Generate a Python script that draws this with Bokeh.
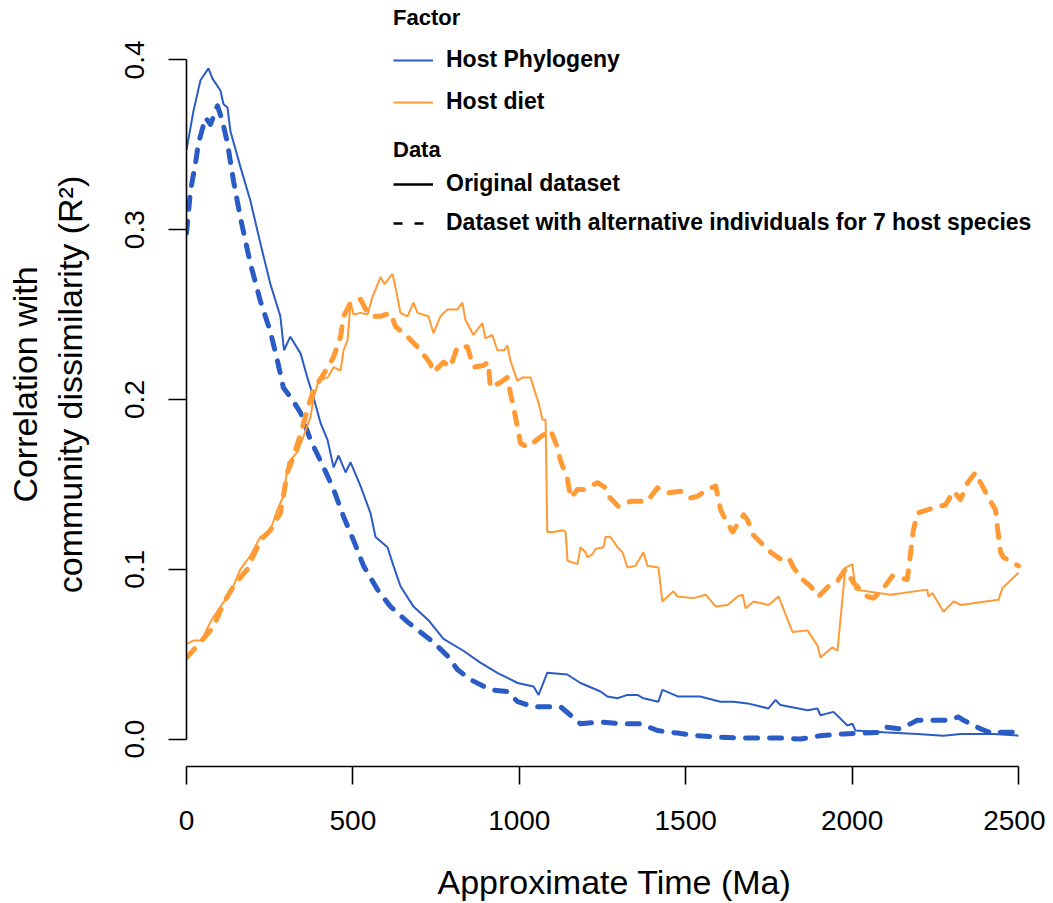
from bokeh.plotting import figure
from bokeh.models import (Range1d, FixedTicker, Legend, LegendItem, LinearAxis,
                          CustomJSTickFormatter)
from bokeh.embed import file_html
from bokeh.resources import INLINE

# ---------------- data ----------------
phylo_orig_t = [0, 21, 42, 66, 78, 102, 111, 123, 132, 162, 192, 222, 252, 282,
                293, 312, 343, 363, 382, 403, 424, 442, 457, 478, 493, 523, 553,
                568, 604, 622, 643, 682, 727, 772, 832, 883, 934, 995, 1043, 1058,
                1084, 1144, 1184, 1244, 1265, 1295, 1325, 1355, 1373, 1418, 1430,
                1478, 1544, 1584, 1605, 1644, 1686, 1749, 1770, 1785, 1866, 1896,
                1905, 1944, 1986, 2001, 2010, 2094, 2196, 2275, 2326, 2426, 2500]
phylo_orig_r2 = [0.347, 0.370, 0.388, 0.395, 0.389, 0.382, 0.374, 0.372, 0.358,
                 0.337, 0.317, 0.292, 0.268, 0.249, 0.229, 0.237, 0.227, 0.213,
                 0.201, 0.186, 0.176, 0.160, 0.167, 0.157, 0.163, 0.149, 0.133,
                 0.119, 0.113, 0.102, 0.090, 0.078, 0.070, 0.059, 0.052, 0.045,
                 0.039, 0.033, 0.031, 0.026, 0.039, 0.038, 0.033, 0.028, 0.025,
                 0.024, 0.026, 0.026, 0.024, 0.022, 0.029, 0.025, 0.025, 0.023,
                 0.022, 0.022, 0.021, 0.018, 0.023, 0.020, 0.017, 0.018, 0.014,
                 0.016, 0.008, 0.009, 0.005, 0.004, 0.003, 0.002, 0.003, 0.003,
                 0.002]

phylo_alt_t = [0, 12, 27, 36, 57, 72, 93, 108, 123, 141, 162, 192, 222, 252, 273,
               291, 321, 343, 373, 412, 442, 472, 502, 532, 574, 613, 664, 703,
               742, 784, 814, 853, 913, 964, 995, 1043, 1094, 1124, 1154, 1184,
               1244, 1304, 1364, 1415, 1475, 1535, 1605, 1665, 1785, 1845, 1905,
               1974, 2034, 2085, 2100, 2145, 2196, 2286, 2320, 2335, 2386, 2426,
               2446, 2500]
phylo_alt_r2 = [0.298, 0.323, 0.339, 0.351, 0.366, 0.362, 0.373, 0.364, 0.351,
                0.329, 0.307, 0.280, 0.258, 0.240, 0.223, 0.207, 0.199, 0.192,
                0.176, 0.160, 0.147, 0.131, 0.117, 0.102, 0.088, 0.078, 0.069,
                0.063, 0.057, 0.049, 0.041, 0.035, 0.029, 0.028, 0.022, 0.019,
                0.019, 0.019, 0.014, 0.009, 0.010, 0.009, 0.009, 0.005, 0.0035,
                0.002, 0.001, 0.0006, 0.0006, 0.0, 0.002, 0.003, 0.0035, 0.004,
                0.007, 0.006, 0.011, 0.011, 0.013, 0.011, 0.006, 0.003, 0.004,
                0.004]

diet_orig_t = [0, 21, 45, 72, 102, 132, 162, 192, 222, 252, 273, 291, 306, 333,
               351, 373, 382, 397, 424, 442, 463, 472, 484, 493, 502, 523, 544,
               558, 583, 595, 619, 628, 643, 664, 682, 694, 727, 742, 763, 784,
               814, 829, 838, 862, 889, 898, 919, 934, 955, 964, 973, 994, 1010,
               1034, 1043, 1058, 1070, 1079, 1084, 1103, 1130, 1139, 1145, 1175,
               1184, 1199, 1205, 1220, 1229, 1253, 1259, 1274, 1295, 1310, 1325,
               1349, 1373, 1385, 1418, 1430, 1463, 1475, 1523, 1560, 1590, 1626,
               1656, 1671, 1680, 1704, 1749, 1779, 1821, 1866, 1896, 1905, 1941,
               1956, 1980, 2001, 2010, 2115, 2226, 2229, 2241, 2275, 2305, 2326,
               2440, 2452, 2500]
diet_orig_r2 = [0.056, 0.058, 0.058, 0.069, 0.078, 0.086, 0.100, 0.108, 0.119,
                0.123, 0.135, 0.143, 0.163, 0.169, 0.178, 0.190, 0.201, 0.211,
                0.213, 0.219, 0.217, 0.229, 0.235, 0.257, 0.250, 0.251, 0.250,
                0.260, 0.272, 0.268, 0.274, 0.266, 0.251, 0.249, 0.257, 0.251,
                0.249, 0.239, 0.249, 0.253, 0.253, 0.257, 0.247, 0.238, 0.245,
                0.236, 0.238, 0.229, 0.229, 0.232, 0.223, 0.211, 0.213, 0.213,
                0.207, 0.198, 0.188, 0.188, 0.122, 0.122, 0.123, 0.122, 0.105,
                0.103, 0.113, 0.110, 0.107, 0.109, 0.112, 0.113, 0.119, 0.119,
                0.113, 0.110, 0.101, 0.102, 0.110, 0.102, 0.101, 0.081, 0.087,
                0.084, 0.083, 0.085, 0.078, 0.079, 0.084, 0.085, 0.077, 0.081,
                0.079, 0.084, 0.063, 0.064, 0.055, 0.048, 0.054, 0.052, 0.101,
                0.103, 0.088, 0.085, 0.088, 0.084, 0.086, 0.075, 0.081, 0.079,
                0.082, 0.089, 0.098]

diet_alt_t = [0, 33, 81, 111, 141, 183, 201, 222, 252, 282, 291, 303, 321, 343,
              363, 382, 412, 442, 463, 472, 493, 523, 544, 562, 583, 613, 628,
              664, 703, 733, 742, 772, 793, 814, 844, 862, 892, 907, 913, 943,
              964, 973, 982, 994, 1004, 1025, 1064, 1094, 1114, 1124, 1145, 1154,
              1175, 1193, 1235, 1259, 1268, 1298, 1334, 1385, 1415, 1445, 1484,
              1514, 1535, 1565, 1590, 1605, 1620, 1641, 1674, 1686, 1704, 1734,
              1755, 1785, 1809, 1824, 1851, 1875, 1899, 1929, 1956, 1980, 2004,
              2046, 2064, 2091, 2121, 2166, 2184, 2196, 2226, 2281, 2305, 2326,
              2347, 2371, 2386, 2410, 2431, 2440, 2446, 2455, 2500]
diet_alt_r2 = [0.048, 0.055, 0.066, 0.080, 0.090, 0.100, 0.108, 0.117, 0.123,
               0.133, 0.143, 0.157, 0.166, 0.180, 0.194, 0.206, 0.215, 0.225,
               0.237, 0.249, 0.257, 0.259, 0.251, 0.249, 0.249, 0.251, 0.243,
               0.237, 0.229, 0.221, 0.216, 0.222, 0.219, 0.231, 0.231, 0.219,
               0.220, 0.222, 0.207, 0.210, 0.213, 0.204, 0.196, 0.184, 0.174,
               0.172, 0.178, 0.182, 0.172, 0.164, 0.153, 0.142, 0.147, 0.147,
               0.151, 0.148, 0.143, 0.137, 0.140, 0.140, 0.148, 0.145, 0.146,
               0.142, 0.143, 0.147, 0.149, 0.135, 0.129, 0.122, 0.132, 0.129,
               0.120, 0.114, 0.110, 0.106, 0.107, 0.101, 0.094, 0.090, 0.084,
               0.090, 0.093, 0.100, 0.092, 0.084, 0.083, 0.088, 0.096, 0.094,
               0.123, 0.133, 0.135, 0.138, 0.146, 0.141, 0.151, 0.157, 0.151,
               0.142, 0.135, 0.119, 0.110, 0.107, 0.102]

x_ticks = [0, 500, 1000, 1500, 2000, 2500]
y_ticks = [0.0, 0.1, 0.2, 0.3, 0.4]

factor_labels = ["Host Phylogeny", "Host diet"]
data_labels = ["Original dataset", "Dataset with alternative individuals for 7 host species"]

BLUE = "#2b5bc5"
ORANGE = "#ff9a35"
FONT = "Liberation Sans"
NAN = float("nan")

# ---------------- layout (pixels) ----------------
W, H = 1045, 903
FRAME_L, FRAME_R, FRAME_T, FRAME_B = 186, 1042, 2, 767
X0_PX, X1_PX = 186.0, 1018.0     # pixel positions of x = 0 and x = 2500
Y0_PX, Y1_PX = 739.5, 59.5       # pixel positions of y = 0 and y = 0.4
sx = (X1_PX - X0_PX) / (x_ticks[-1] - x_ticks[0])
sy = (Y0_PX - Y1_PX) / (y_ticks[-1] - y_ticks[0])
x_lo = x_ticks[0] - (X0_PX - FRAME_L) / sx
x_hi = x_ticks[0] + (FRAME_R - X0_PX) / sx
y_lo = y_ticks[0] - (FRAME_B - Y0_PX) / sy
y_hi = y_ticks[0] + (Y0_PX - FRAME_T) / sy

p = figure(width=W, height=H, output_backend="svg", toolbar_location=None,
           x_range=Range1d(x_lo, x_hi), y_range=Range1d(y_lo, y_hi),
           min_border_left=FRAME_L, min_border_right=W - FRAME_R,
           min_border_top=FRAME_T, min_border_bottom=H - FRAME_B)
p.xgrid.visible = False
p.ygrid.visible = False
p.outline_line_color = None
p.background_fill_color = "white"
p.border_fill_color = "white"

for ax in (p.xaxis[0], p.yaxis[0]):
    ax.axis_line_width = 1.6
    ax.axis_line_color = "black"
    ax.major_tick_line_width = 1.6
    ax.major_tick_line_color = "black"
    ax.major_tick_out = 18
    ax.major_tick_in = 0
    ax.minor_tick_line_color = None
    ax.major_label_text_font = FONT
    ax.major_label_text_font_size = "28px"
    ax.major_label_text_color = "black"
    ax.axis_label_text_font = FONT
    ax.axis_label_text_font_size = "34px"
    ax.axis_label_text_font_style = "normal"
    ax.axis_label_text_color = "black"

p.xaxis[0].ticker = FixedTicker(ticks=x_ticks)
p.xaxis[0].bounds = (x_ticks[0], x_ticks[-1])
p.xaxis[0].major_label_standoff = 26
p.xaxis[0].axis_label = "Approximate Time (Ma)"
p.xaxis[0].axis_label_standoff = 30

p.yaxis[0].ticker = FixedTicker(ticks=y_ticks)
p.yaxis[0].bounds = (y_ticks[0], y_ticks[-1])
p.yaxis[0].major_label_orientation = "vertical"
p.yaxis[0].major_label_standoff = 24
p.yaxis[0].formatter = CustomJSTickFormatter(code="return tick.toFixed(1);")
p.yaxis[0].axis_label = "community dissimilarity (R\u00b2)"
p.yaxis[0].axis_label_standoff = 34

# outer, line-less axis that only carries the first line of the y title
outer = LinearAxis(ticker=FixedTicker(ticks=[]), axis_label="Correlation with",
                   axis_line_color=None, major_tick_line_color=None,
                   minor_tick_line_color=None, major_tick_out=0, major_tick_in=0,
                   major_label_text_font_size="0px", axis_label_standoff=4,
                   axis_label_text_font=FONT, axis_label_text_font_size="34px",
                   axis_label_text_font_style="normal",
                   axis_label_text_color="black")
p.add_layout(outer, "left")

# ---------------- lines ----------------
r_phylo = p.line(phylo_orig_t, phylo_orig_r2, line_color=BLUE, line_width=2)
r_phylo_alt = p.line(phylo_alt_t, phylo_alt_r2, line_color=BLUE, line_width=5,
                     line_dash="12 12", line_cap="round", line_join="round")
r_diet = p.line(diet_orig_t, diet_orig_r2, line_color=ORANGE, line_width=2)
r_diet_alt = p.line(diet_alt_t, diet_alt_r2, line_color=ORANGE, line_width=5,
                    line_dash="12 12", line_cap="round", line_join="round")

# key-only renderers for the "Data" legend (nothing drawn in the plot)
r_key_solid = p.line([NAN, NAN], [NAN, NAN], line_color="black", line_width=2.5)
r_key_dash = p.line([NAN, NAN], [NAN, NAN], line_color="black", line_width=2.5,
                    line_dash="9 12")

def make_legend(items, title, loc, standoff, spacing):
    return Legend(items=items, title=title, location=loc, orientation="vertical",
                  padding=0, margin=0, border_line_color=None,
                  background_fill_alpha=0, glyph_width=40, glyph_height=20,
                  label_standoff=13, spacing=spacing, title_standoff=standoff,
                  label_text_font=FONT, label_text_font_size="23px",
                  label_text_font_style="bold", label_text_color="black",
                  title_text_font=FONT, title_text_font_size="22px",
                  title_text_font_style="bold", title_text_color="black")

leg_factor = make_legend(
    [LegendItem(label=factor_labels[0], renderers=[r_phylo]),
     LegendItem(label=factor_labels[1], renderers=[r_diet])],
    "Factor", (207, 651), 15, 15)
leg_data = make_legend(
    [LegendItem(label=data_labels[0], renderers=[r_key_solid]),
     LegendItem(label=data_labels[1], renderers=[r_key_dash])],
    "Data", (207, 530), 7, 12)
p.add_layout(leg_factor, "center")
p.add_layout(leg_data, "center")

open("out.html", "w").write(file_html(p, INLINE))
